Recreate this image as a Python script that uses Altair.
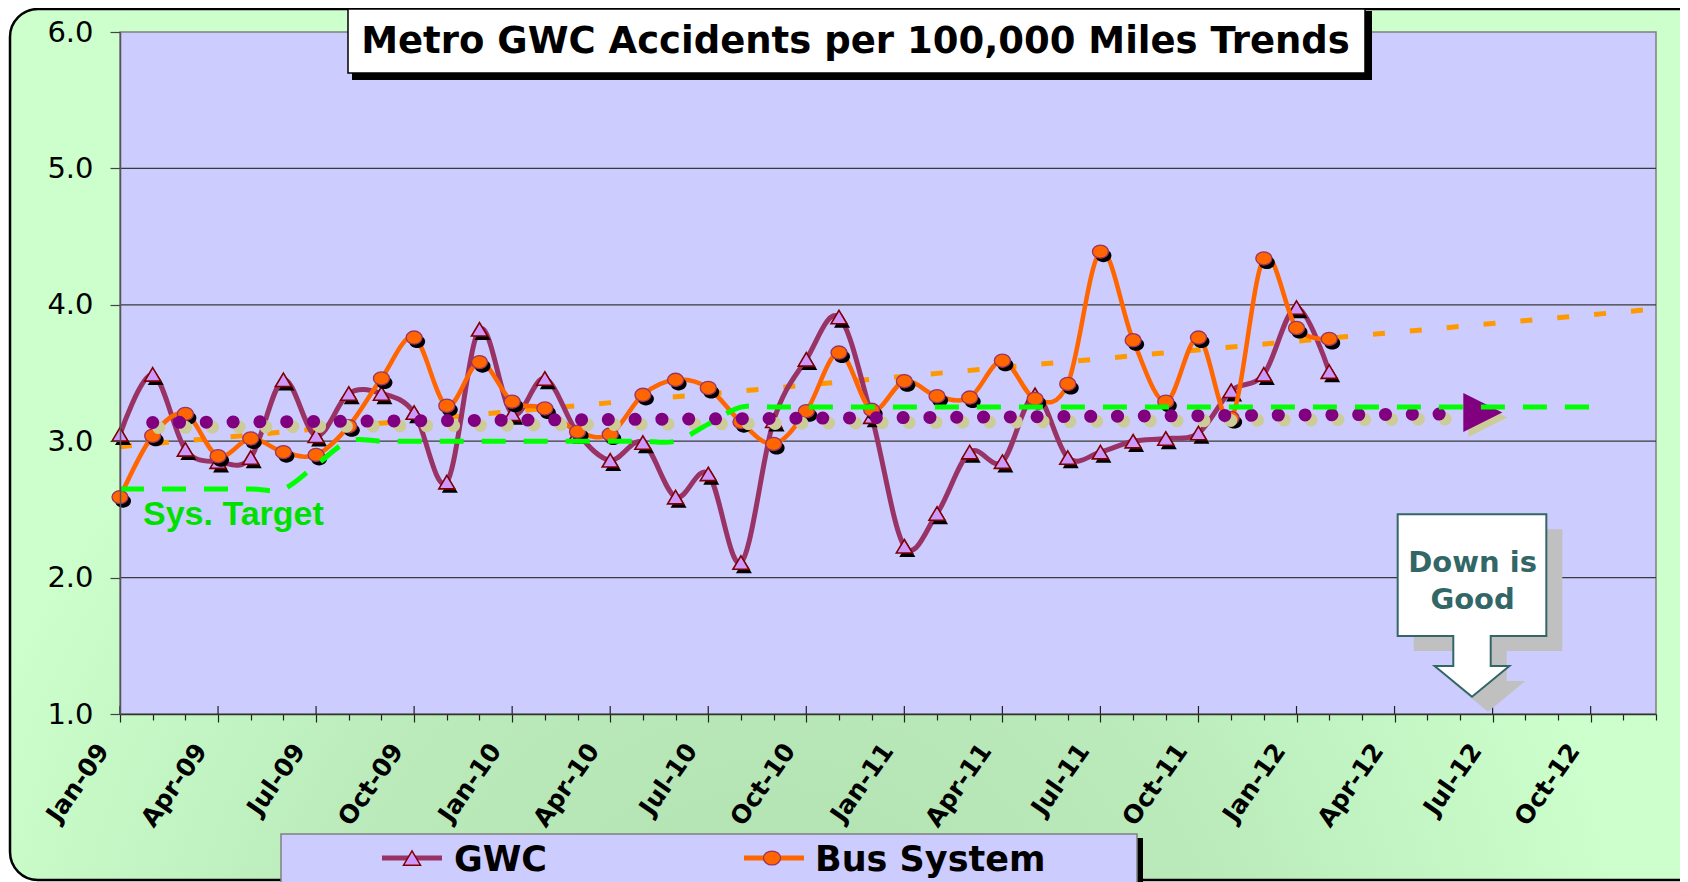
import json
import pandas as pd
import altair as alt

# ---------------- data ----------------
x_tick_labels = ["Jan-09", "Apr-09", "Jul-09", "Oct-09", "Jan-10", "Apr-10", "Jul-10", "Oct-10",
                 "Jan-11", "Apr-11", "Jul-11", "Oct-11", "Jan-12", "Apr-12", "Jul-12", "Oct-12"]
y_ticks = [1, 2, 3, 4, 5, 6]
grid_values = [2, 3, 4, 5]

# monthly values, Jan-09 .. Feb-12
gwc = [3.05, 3.49, 2.94, 2.85, 2.88, 3.45, 3.04, 3.35, 3.35, 3.21, 2.70, 3.82,
       3.20, 3.46, 3.06, 2.86, 2.99, 2.59, 2.76, 2.11, 3.15, 3.60, 3.91, 3.18,
       2.23, 2.47, 2.92, 2.85, 3.34, 2.88, 2.92, 3.00, 3.02, 3.06, 3.37, 3.49,
       3.98, 3.51]
bus = [2.59, 3.04, 3.20, 2.89, 3.02, 2.92, 2.90, 3.11, 3.46, 3.76, 3.26, 3.58,
       3.29, 3.24, 3.07, 3.05, 3.34, 3.45, 3.39, 3.14, 2.98, 3.22, 3.65, 3.23,
       3.44, 3.33, 3.32, 3.59, 3.31, 3.42, 4.39, 3.74, 3.29, 3.76, 3.17, 4.34,
       3.83, 3.75]
# system target, Jan-09 .. Oct-12
target = [2.65, 2.65, 2.65, 2.65, 2.65, 2.65, 2.825,
          3.0, 3.0, 3.0, 3.0, 3.0, 3.0, 3.0, 3.0, 3.0, 3.0, 3.0, 3.125,
          3.25, 3.25, 3.25, 3.25, 3.25, 3.25, 3.25, 3.25, 3.25, 3.25, 3.25, 3.25,
          3.25, 3.25, 3.25, 3.25, 3.25, 3.25, 3.25, 3.25, 3.25, 3.25, 3.25, 3.25,
          3.25, 3.25, 3.25]
bus_trend_m = [0, 47]
bus_trend_v = [2.96, 3.97]
gwc_trend_m = [1, 41]
gwc_trend_v = [3.137, 3.200]
gwc_arrow_m = [41.7]
gwc_arrow_v = [3.21]

title_text = "Metro GWC Accidents per 100,000 Miles Trends"

# ---------------- layout ----------------
W, H = 1536, 682
FONT = "DejaVu Sans"

xs = alt.Scale(domain=[0, 47], nice=False, zero=False)
ys = alt.Scale(domain=[1, 6], nice=False, zero=False)

label_expr = "datum.value % 3 == 0 ? " + json.dumps(x_tick_labels) + "[datum.value / 3] : ''"
xaxis = alt.Axis(values=list(range(48)), labelExpr=label_expr, labelAngle=-55,
                 labelAlign="right", labelBaseline="middle", labelFont=FONT,
                 labelFontSize=25, labelFontWeight="bold", labelColor="black",
                 labelPadding=24, labelOffset=-17, labelOverlap=False, labelFlush=False,
                 tickSize={"condition": {"test": "datum.value % 3 == 0", "value": 8}, "value": 6},
                 tickColor="#222222", tickWidth=1.2, domainColor="#333333", domainWidth=1.5,
                 grid=False, title=None, zindex=1)
yaxis = alt.Axis(values=y_ticks, format=".1f", labelFont=FONT, labelFontSize=29,
                 labelColor="black", labelPadding=17, tickSize=10, tickColor="#444444",
                 tickWidth=1.2, domainColor="#555555", domainWidth=1.5, grid=False,
                 title=None, zindex=1)
X = alt.X("m:Q", scale=xs, axis=xaxis)
Y = alt.Y("v:Q", scale=ys, axis=yaxis)

TRI = "M0,-0.84 L1,0.84 L-1,0.84 Z"
ELL = "M-1,0 A1,0.82 0 1,1 1,0 A1,0.82 0 1,1 -1,0 Z"
ARROW = "M-1,-1 L1,0 L-1,1 Z"
CALLOUT = ("M-0.815,-1 L0.815,-1 L0.815,0.334 L0.205,0.334 L0.205,0.663 L0.41,0.663 "
           "L0,1 L-0.41,0.663 L-0.205,0.663 L-0.205,0.334 L-0.815,0.334 Z")

one = pd.DataFrame({"a": [0]})
gwc_df = pd.DataFrame({"m": list(range(len(gwc))), "v": gwc})
bus_df = pd.DataFrame({"m": list(range(len(bus))), "v": bus})
tgt_df = pd.DataFrame({"m": list(range(len(target))), "v": target})
bt_df = pd.DataFrame({"m": bus_trend_m, "v": bus_trend_v})
gt_df = pd.DataFrame({"m": gwc_trend_m, "v": gwc_trend_v})
ga_df = pd.DataFrame({"m": gwc_arrow_m, "v": gwc_arrow_v})
grid_df = pd.DataFrame({"v": grid_values})
major_df = pd.DataFrame({"m": list(range(0, 48, 3))})

grad = alt.RadialGradient(
    gradient="radial",
    stops=[alt.GradientStop(color="#B0DEB0", offset=0),
           alt.GradientStop(color="#BBEBBB", offset=0.55),
           alt.GradientStop(color="#CCFFCC", offset=1)],
    x1=0.45, y1=0.84, r1=0, x2=0.45, y2=0.84, r2=0.5)

MS = 256  # data marker size

layers = []
# outer green panel
layers.append(alt.Chart(one).mark_rect(fill=grad, stroke="black", strokeWidth=2.5, cornerRadius=28)
              .encode(x=alt.value(-110), x2=alt.value(W + 60), y=alt.value(-23), y2=alt.value(H + 166)))
# plot area
layers.append(alt.Chart(one).mark_rect(fill="#CCCCFF", stroke="#808080", strokeWidth=1.5)
              .encode(x=alt.value(0), x2=alt.value(W), y=alt.value(0), y2=alt.value(H)))
# gridlines
layers.append(alt.Chart(grid_df).mark_rule(color="#3a3a3a", strokeWidth=1.2).encode(y=Y))
# major tick inner parts
layers.append(alt.Chart(major_df).mark_rule(color="#222222", strokeWidth=1.2)
              .encode(x=X, y=alt.value(H - 8), y2=alt.value(H)))
# bus linear trend
layers.append(alt.Chart(bt_df).mark_line(color="#FF9900", strokeWidth=5, strokeDash=[12, 25])
              .encode(x=X, y=Y))
# GWC series
layers.append(alt.Chart(gwc_df).mark_line(color="#993366", strokeWidth=5, interpolate="cardinal")
              .encode(x=X, y=Y))
layers.append(alt.Chart(gwc_df).mark_point(shape=TRI, size=MS, filled=True, fill="black",
                                           opacity=1, xOffset=3, yOffset=4)
              .encode(x=X, y=Y))
layers.append(alt.Chart(gwc_df).mark_point(shape=TRI, size=MS, filled=True, fill="#CC99FF",
                                           stroke="#800000", strokeWidth=1.6, opacity=1)
              .encode(x=X, y=Y))
# Bus series
layers.append(alt.Chart(bus_df).mark_line(color="#FF6600", strokeWidth=4.5, interpolate="cardinal")
              .encode(x=X, y=Y))
layers.append(alt.Chart(bus_df).mark_point(shape=ELL, size=MS, filled=True, fill="black",
                                           opacity=1, xOffset=3, yOffset=4)
              .encode(x=X, y=Y))
layers.append(alt.Chart(bus_df).mark_point(shape=ELL, size=MS, filled=True, fill="#FF6600",
                                           stroke="#993366", strokeWidth=1.3, opacity=1)
              .encode(x=X, y=Y))
# GWC trend (dotted with shadow and arrow)
layers.append(alt.Chart(gt_df).mark_line(color="#CCCC99", strokeWidth=13, strokeDash=[0.1, 26.7],
                                         strokeCap="round", xOffset=6, yOffset=5)
              .encode(x=X, y=Y))
layers.append(alt.Chart(ga_df).mark_point(shape=ARROW, size=1521, filled=True, fill="#CCCC99",
                                          opacity=1, xOffset=5, yOffset=5)
              .encode(x=X, y=Y))
layers.append(alt.Chart(gt_df).mark_line(color="#800080", strokeWidth=13, strokeDash=[0.1, 26.7],
                                         strokeCap="round")
              .encode(x=X, y=Y))
layers.append(alt.Chart(ga_df).mark_point(shape=ARROW, size=1521, filled=True, fill="#800080",
                                          opacity=1)
              .encode(x=X, y=Y))
# system target
layers.append(alt.Chart(tgt_df).mark_line(color="#00FF00", strokeWidth=5, strokeDash=[24, 18],
                                          interpolate="cardinal")
              .encode(x=X, y=Y))
layers.append(alt.Chart(one).mark_text(text="Sys. Target", font="Liberation Sans", fontSize=34,
                                       fontWeight="bold", color="#00E000", align="left",
                                       baseline="alphabetic")
              .encode(x=alt.value(23), y=alt.value(493)))
# "Down is Good" callout
layers.append(alt.Chart(one).mark_point(shape=CALLOUT, size=33270, filled=True, fill="#C0C0C0",
                                        strokeWidth=0, opacity=1)
              .encode(x=alt.value(1368), y=alt.value(588.5)))
layers.append(alt.Chart(one).mark_point(shape=CALLOUT, size=33270, filled=True, fill="white",
                                        stroke="#336666", strokeWidth=2, opacity=1)
              .encode(x=alt.value(1352), y=alt.value(573.5)))
for txt, yy in (("Down is", 539.7), ("Good", 577.3)):
    layers.append(alt.Chart(one).mark_text(text=txt, font=FONT, fontSize=29, fontWeight="bold",
                                           color="#336666", align="center", baseline="alphabetic")
                  .encode(x=alt.value(1352.6), y=alt.value(yy)))
# title box
layers.append(alt.Chart(one).mark_rect(fill="black")
              .encode(x=alt.value(232), x2=alt.value(1252), y=alt.value(-21), y2=alt.value(48)))
layers.append(alt.Chart(one).mark_rect(fill="white", stroke="black", strokeWidth=1.5)
              .encode(x=alt.value(228), x2=alt.value(1245), y=alt.value(-23), y2=alt.value(41)))
layers.append(alt.Chart(one).mark_text(text=title_text, font=FONT, fontSize=37, fontWeight="bold",
                                       color="black", align="center", baseline="alphabetic")
              .encode(x=alt.value(735.5), y=alt.value(21.3)))
# legend box
layers.append(alt.Chart(one).mark_rect(fill="black")
              .encode(x=alt.value(167), x2=alt.value(1023), y=alt.value(806), y2=alt.value(H + 260)))
layers.append(alt.Chart(one).mark_rect(fill="#CCCCFF", stroke="#808080", strokeWidth=1.5)
              .encode(x=alt.value(161), x2=alt.value(1017), y=alt.value(802), y2=alt.value(H + 260)))
layers.append(alt.Chart(one).mark_rule(color="#993366", strokeWidth=5)
              .encode(x=alt.value(262), x2=alt.value(322), y=alt.value(826)))
layers.append(alt.Chart(one).mark_point(shape=TRI, size=289, filled=True, fill="#CC99FF",
                                        stroke="#800000", strokeWidth=1.5, opacity=1)
              .encode(x=alt.value(292), y=alt.value(826)))
layers.append(alt.Chart(one).mark_rule(color="#FF6600", strokeWidth=5)
              .encode(x=alt.value(624), x2=alt.value(684), y=alt.value(826)))
layers.append(alt.Chart(one).mark_point(shape=ELL, size=289, filled=True, fill="#FF6600",
                                        stroke="#993366", strokeWidth=1.3, opacity=1)
              .encode(x=alt.value(652), y=alt.value(826)))
for txt, xx in (("GWC", 334), ("Bus System", 695)):
    layers.append(alt.Chart(one).mark_text(text=txt, font=FONT, fontSize=35, fontWeight="bold",
                                           color="black", align="left", baseline="alphabetic")
                  .encode(x=alt.value(xx), y=alt.value(838.5)))

chart = alt.layer(*layers).properties(
    width=W, height=H,
    padding={"left": 112, "top": 24, "right": 24, "bottom": 176},
    autosize=alt.AutoSizeParams(type="none"),
    background="white",
).configure_view(stroke=None)

chart.save("out.html", embed_options={"renderer": "svg", "actions": False})
